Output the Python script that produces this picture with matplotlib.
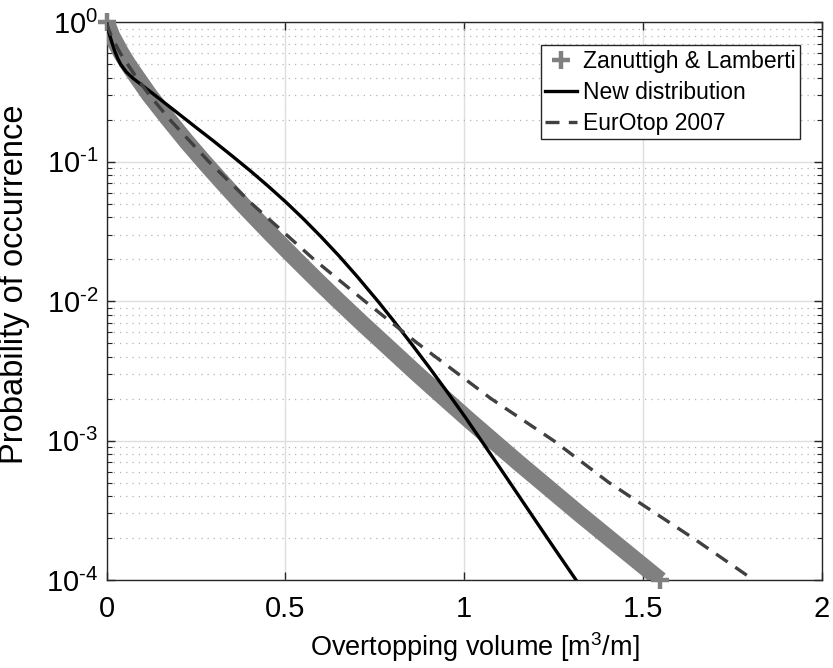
import matplotlib
matplotlib.use("Agg")
import matplotlib.pyplot as plt
from matplotlib.lines import Line2D
from matplotlib.ticker import LogLocator, NullFormatter, FixedLocator, FixedFormatter

plt.rcParams.update({"font.family": ["Liberation Sans", "DejaVu Sans"],
                     "mathtext.fontset": "custom",
                     "mathtext.rm": "Liberation Sans",
                     "mathtext.it": "Liberation Sans:italic",
                     "mathtext.bf": "Liberation Sans:bold",
                     "mathtext.default": "regular"})

GRAY = "#808080"; DASH = "#404040"; AXC = "#262626"

# Zanuttigh & Lamberti data (centre of the marker band)
zl_x = [0.0, 0.0145, 0.041, 0.060, 0.086, 0.120, 0.174, 0.223, 0.272, 0.326,
        0.378, 0.461, 0.529, 0.590, 0.649, 0.713, 0.775, 0.869, 0.946, 1.014,
        1.080, 1.150, 1.218, 1.321, 1.405, 1.479, 1.549]
zl_p = [1.0, 0.8, 0.6, 0.5, 0.4, 0.3, 0.2, 0.14, 0.1, 0.07,
        0.05, 0.03, 0.02, 0.014, 0.01, 0.007, 0.005, 0.003, 0.002, 0.0014,
        0.001, 7e-4, 5e-4, 3e-4, 2e-4, 1.4e-4, 1e-4]

# New distribution
new_x = [0.0, 0.003, 0.009, 0.016, 0.023, 0.031, 0.039, 0.055, 0.075, 0.093,
         0.12, 0.16, 0.20, 0.25, 0.30, 0.35, 0.40, 0.45, 0.50, 0.55,
         0.60, 0.65, 0.70, 0.76, 0.80, 0.85, 0.90, 0.95, 1.00, 1.05,
         1.10, 1.15, 1.20, 1.25, 1.313]
new_p = [1.0, 0.9, 0.8, 0.7, 0.617, 0.55, 0.5, 0.44, 0.394, 0.363,
         0.321, 0.267, 0.222, 0.176, 0.140, 0.1105, 0.0868, 0.0674, 0.0517, 0.0390,
         0.0289, 0.0211, 0.0151, 0.0099, 0.00737, 0.00504, 0.00341, 0.00228, 0.00151, 0.000983,
         0.000638, 0.000412, 0.000266, 0.000172, 0.0001]

# EurOtop 2007
eo_x = [0.0, 0.005, 0.013, 0.038, 0.084, 0.120, 0.177, 0.286, 0.406, 0.579,
        0.722, 0.869, 1.075, 1.25, 1.405, 1.640, 1.81]
eo_p = [1.0, 0.9, 0.8, 0.6, 0.4, 0.3, 0.2, 0.1, 0.05, 0.02,
        0.01, 0.005, 0.002, 0.001, 5e-4, 2e-4, 1e-4]

yticks = [1e-4, 1e-3, 1e-2, 1e-1, 1]
ylabels = [r"$10^{\text{-}4}$", r"$10^{\text{-}3}$", r"$10^{\text{-}2}$",
           r"$10^{\text{-}1}$", r"$10^{0}$"]
xticks = [0, 0.5, 1, 1.5, 2]
xlabels = ["0", "0.5", "1", "1.5", "2"]

fig = plt.figure(figsize=(8.33, 6.68), dpi=100)
fig.patch.set_facecolor("white")
ax = fig.add_axes([0.128, 0.1317, 0.8584, 0.835])

# marker band: thick line plus '+' markers
ax.plot(zl_x, zl_p, color=GRAY, lw=12, solid_capstyle="butt",
        solid_joinstyle="round", zorder=3)
ax.plot(zl_x[::3] + zl_x[-1:], zl_p[::3] + zl_p[-1:], ls="none", marker="+",
        ms=13, mew=3.2, color=GRAY, clip_on=False, zorder=3)
ax.plot(new_x, new_p, color="black", lw=2.4, zorder=4)
ax.plot(eo_x, eo_p, color=DASH, lw=2.4, ls=(0, (4.2, 2.8)), zorder=4)

ax.set_yscale("log")
ax.set_xlim(0, 2); ax.set_ylim(1e-4, 1)
ax.xaxis.set_major_locator(FixedLocator(xticks))
ax.xaxis.set_major_formatter(FixedFormatter(xlabels))
ax.yaxis.set_major_locator(FixedLocator(yticks))
ax.yaxis.set_major_formatter(FixedFormatter(ylabels))
ax.yaxis.set_minor_locator(LogLocator(base=10, subs=range(2, 10), numticks=20))
ax.yaxis.set_minor_formatter(NullFormatter())

ax.grid(True, which="major", color="#dedede", lw=1.0, zorder=0)
ax.grid(True, which="minor", axis="y", color="#b4b4b4", lw=0.9,
        ls=(0, (1, 4)), zorder=0)
ax.set_axisbelow(True)

for s in ax.spines.values():
    s.set_color(AXC); s.set_linewidth(1.0)
ax.tick_params(which="both", direction="in", top=True, right=True,
               colors=AXC, labelcolor="black", labelsize=21)
ax.tick_params(which="major", length=6, width=1.0)
ax.tick_params(axis="x", which="major", pad=11)
ax.tick_params(axis="y", which="major", pad=6)
ax.tick_params(which="minor", length=3.5, width=0.8)

ax.set_xlabel("Overtopping volume [m$^3$/m]", fontsize=19.5)
ax.xaxis.set_label_coords(0.515, -0.09)
ax.set_ylabel("Probability of occurrence", fontsize=23.5)
ax.yaxis.set_label_coords(-0.107, 0.53)

handles = [Line2D([], [], ls="none", marker="+", ms=13, mew=3.2, color=GRAY),
           Line2D([], [], color="black", lw=2.4),
           Line2D([], [], color=DASH, lw=2.4, ls=(0, (4.2, 2.8)))]
labels = ["Zanuttigh & Lamberti", "New distribution", "EurOtop 2007"]
leg = ax.legend(handles, labels, loc="upper right", bbox_to_anchor=(0.970, 0.959),
                borderaxespad=0, fontsize=16.5, frameon=True, fancybox=False,
                handlelength=1.4, handletextpad=0.25, borderpad=0.2,
                labelspacing=0.35)
leg.get_frame().set_edgecolor(AXC); leg.get_frame().set_linewidth(1.0)
leg.get_frame().set_alpha(1)

fig.savefig("out.png", dpi=100, facecolor="white")
